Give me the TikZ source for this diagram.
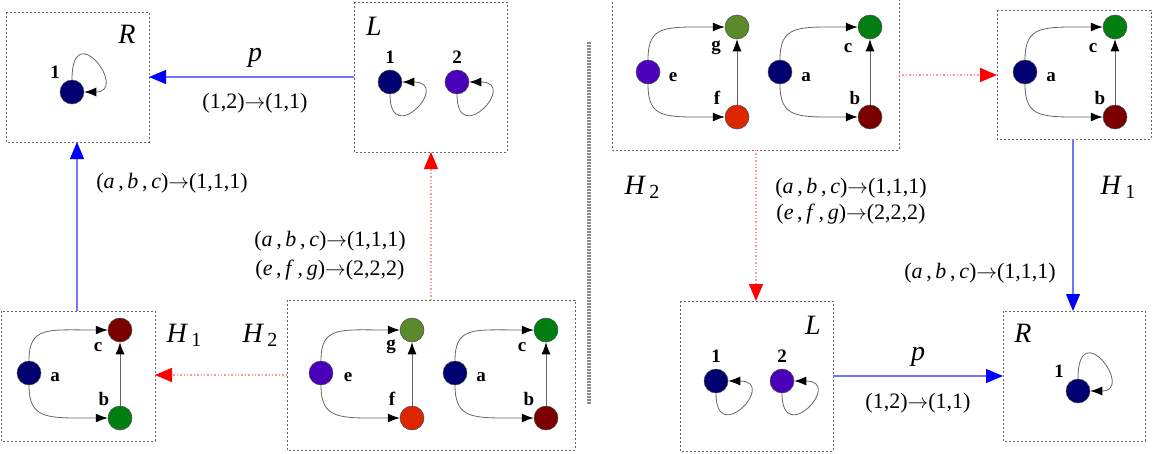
\documentclass[tikz,border=0pt]{standalone}
\usepackage{fontspec}
\setmainfont{Liberation Serif}
\usetikzlibrary{arrows.meta}
\definecolor{cnavy}{HTML}{000070}
\definecolor{cpurp}{HTML}{4A00BB}
\definecolor{cdred}{HTML}{7A0000}
\definecolor{cgreen}{HTML}{007F10}
\definecolor{colive}{HTML}{5B8A2C}
\definecolor{corange}{HTML}{DD2600}
\begin{document}
\begin{tikzpicture}[x=1pt,y=-1pt,
  v/.style={circle,draw=black!70,line width=0.5pt,minimum size=24pt,inner sep=0pt},
  lb/.style={font=\fontsize{19}{19}\selectfont\bfseries,inner sep=0pt},
  ed/.style={draw=black!60,line width=0.8pt,-{Latex[black,length=12pt,width=9pt]}},
  box/.style={draw=black!60,dash pattern=on 2pt off 2pt,line width=0.8pt},
  big/.style={font=\fontsize{28}{28}\selectfont\itshape,inner sep=0pt},
  ml/.style={font=\fontsize{22}{24}\selectfont,inner sep=0pt,align=left},
  bar/.style={draw=blue!55,line width=1.2pt,-{Triangle[blue,length=17pt,width=14pt]}},
  rar/.style={draw=red!40,line width=1.4pt,dotted,-{Triangle[red,length=17pt,width=14pt]}}]
\useasboundingbox (0,0) rectangle (1152,453);
% boxes
\draw[box] (6,12) rectangle (149,142);
\draw[box] (354,2) rectangle (507,152);
\draw[box] (1,311) rectangle (155,441);
\draw[box] (287,300) rectangle (575,450);
\draw[box] (612,-2) rectangle (899,150);
\draw[box] (997,10) rectangle (1151,139);
\draw[box] (680,301) rectangle (833,451);
\draw[box] (1003,311) rectangle (1145,441);
% divider
\draw[black!45,line width=4pt,dash pattern=on 1.5pt off 1.5pt] (589,42) -- (589,404);
% big labels
\node[big] at (127,34) {R};
\node[big] at (374,26) {L};
\node[big] at (184,335) {H\,\raisebox{-4pt}{\upshape\fontsize{20}{20}\selectfont 1}};
\node[big] at (260,335) {H\,\raisebox{-4pt}{\upshape\fontsize{20}{20}\selectfont 2}};
\node[big] at (642,187) {H\,\raisebox{-4pt}{\upshape\fontsize{20}{20}\selectfont 2}};
\node[big] at (1118,187) {H\,\raisebox{-4pt}{\upshape\fontsize{20}{20}\selectfont 1}};
\node[big] at (813,325) {L};
\node[big] at (1023,333) {R};
% ---------- left R
\node[v,fill=cnavy] (lr1) at (72,92) {};
\node[lb] at (55,72) {1};
\draw[ed] (lr1.north) .. controls +(0,-65) and +(45,0) .. (lr1.east);
% left L
\node[v,fill=cnavy] (ll1) at (390,82) {};
\node[v,fill=cpurp] (ll2) at (457,82) {};
\node[lb] at (390,57) {1};
\node[lb] at (457,57) {2};
\draw[ed] (ll1.south) .. controls +(0,55) and +(50,0) .. (ll1.east);
\draw[ed] (ll2.south) .. controls +(0,55) and +(50,0) .. (ll2.east);
% left H1
\node[v,fill=cnavy] (h1a) at (29,373) {};
\node[v,fill=cdred] (h1c) at (120,330) {};
\node[v,fill=cgreen] (h1b) at (120,418) {};
\node[lb] at (55,377) {a};
\node[lb] at (98,347) {c};
\node[lb] at (104,399) {b};
\draw[ed] (h1a.north) .. controls +(0,-35) and +(-60,0) .. (h1c.west);
\draw[ed] (h1a.south) .. controls +(0,35) and +(-60,0) .. (h1b.west);
\draw[ed] (h1b) -- (h1c);
% left H2
\node[v,fill=cpurp] (h2e) at (321,373) {};
\node[v,fill=colive] (h2g) at (412,330) {};
\node[v,fill=corange] (h2f) at (412,418) {};
\node[v,fill=cnavy] (h2a) at (455,373) {};
\node[v,fill=cgreen] (h2c) at (546,330) {};
\node[v,fill=cdred] (h2b) at (546,418) {};
\node[lb] at (348,377) {e};
\node[lb] at (391,347) {g};
\node[lb] at (392,399) {f};
\node[lb] at (481,377) {a};
\node[lb] at (522,347) {c};
\node[lb] at (529,399) {b};
\draw[ed] (h2e.north) .. controls +(0,-35) and +(-60,0) .. (h2g.west);
\draw[ed] (h2e.south) .. controls +(0,35) and +(-60,0) .. (h2f.west);
\draw[ed] (h2f) -- (h2g);
\draw[ed] (h2a.north) .. controls +(0,-35) and +(-60,0) .. (h2c.west);
\draw[ed] (h2a.south) .. controls +(0,35) and +(-60,0) .. (h2b.west);
\draw[ed] (h2b) -- (h2c);
% left arrows
\coordinate (pA) at (354,77); \coordinate (pB) at (149,77);
\draw[bar] (pA) -- (pB);
\node[font=\fontsize{28}{28}\selectfont\itshape,inner sep=0pt] at (255,58) {p};
\node[ml] at (255,103) {(1,2)$\rightarrow$(1,1)};
\coordinate (hA) at (77,311); \coordinate (hB) at (77,142);
\draw[bar] (hA) -- (hB);
\node[ml] at (172,183) {(\textit{a}\,,\,\textit{b}\,,\,\textit{c})$\rightarrow$(1,1,1)};
\coordinate (rA) at (431,300); \coordinate (rB) at (431,152);
\draw[rar] (rA) -- (rB);
\node[ml] at (330,241) {(\textit{a}\,,\,\textit{b}\,,\,\textit{c})$\rightarrow$(1,1,1)};
\node[ml] at (330,270) {(\textit{e}\,,\,\textit{f}\,,\,\textit{g})$\rightarrow$(2,2,2)};
\coordinate (qA) at (287,375); \coordinate (qB) at (155,375);
\draw[rar] (qA) -- (qB);
% ---------- right H2
\node[v,fill=cpurp] (k2e) at (648,72) {};
\node[v,fill=colive] (k2g) at (737,27) {};
\node[v,fill=corange] (k2f) at (737,117) {};
\node[v,fill=cnavy] (k2a) at (780,72) {};
\node[v,fill=cgreen] (k2c) at (870,27) {};
\node[v,fill=cdred] (k2b) at (870,117) {};
\node[lb] at (673,77) {e};
\node[lb] at (716,48) {g};
\node[lb] at (717,98) {f};
\node[lb] at (806,77) {a};
\node[lb] at (848,48) {c};
\node[lb] at (855,98) {b};
\draw[ed] (k2e.north) .. controls +(0,-35) and +(-60,0) .. (k2g.west);
\draw[ed] (k2e.south) .. controls +(0,35) and +(-60,0) .. (k2f.west);
\draw[ed] (k2f) -- (k2g);
\draw[ed] (k2a.north) .. controls +(0,-35) and +(-60,0) .. (k2c.west);
\draw[ed] (k2a.south) .. controls +(0,35) and +(-60,0) .. (k2b.west);
\draw[ed] (k2b) -- (k2c);
% right H1
\node[v,fill=cnavy] (k1a) at (1025,72) {};
\node[v,fill=cgreen] (k1c) at (1115,27) {};
\node[v,fill=cdred] (k1b) at (1115,117) {};
\node[lb] at (1051,77) {a};
\node[lb] at (1093,48) {c};
\node[lb] at (1100,98) {b};
\draw[ed] (k1a.north) .. controls +(0,-35) and +(-60,0) .. (k1c.west);
\draw[ed] (k1a.south) .. controls +(0,35) and +(-60,0) .. (k1b.west);
\draw[ed] (k1b) -- (k1c);
% right L
\node[v,fill=cnavy] (kl1) at (716,381) {};
\node[v,fill=cpurp] (kl2) at (782,381) {};
\node[lb] at (716,356) {1};
\node[lb] at (782,356) {2};
\draw[ed] (kl1.south) .. controls +(0,55) and +(50,0) .. (kl1.east);
\draw[ed] (kl2.south) .. controls +(0,55) and +(50,0) .. (kl2.east);
% right R
\node[v,fill=cnavy] (kr1) at (1078,391) {};
\node[lb] at (1059,371) {1};
\draw[ed] (kr1.north) .. controls +(0,-65) and +(45,0) .. (kr1.east);
% right arrows
\coordinate (sA) at (899,75); \coordinate (sB) at (997,75);
\draw[rar] (sA) -- (sB);
\coordinate (tA) at (756,150); \coordinate (tB) at (756,301);
\draw[rar] (tA) -- (tB);
\node[ml] at (851,188) {(\textit{a}\,,\,\textit{b}\,,\,\textit{c})$\rightarrow$(1,1,1)};
\node[ml] at (851,214) {(\textit{e}\,,\,\textit{f}\,,\,\textit{g})$\rightarrow$(2,2,2)};
\coordinate (uA) at (1073,139); \coordinate (uB) at (1073,311);
\draw[bar] (uA) -- (uB);
\node[ml] at (980,273) {(\textit{a}\,,\,\textit{b}\,,\,\textit{c})$\rightarrow$(1,1,1)};
\coordinate (wA) at (833,376); \coordinate (wB) at (1003,376);
\draw[bar] (wA) -- (wB);
\node[font=\fontsize{28}{28}\selectfont\itshape,inner sep=0pt] at (918,357) {p};
\node[ml] at (918,403) {(1,2)$\rightarrow$(1,1)};
\end{tikzpicture}
\end{document}
